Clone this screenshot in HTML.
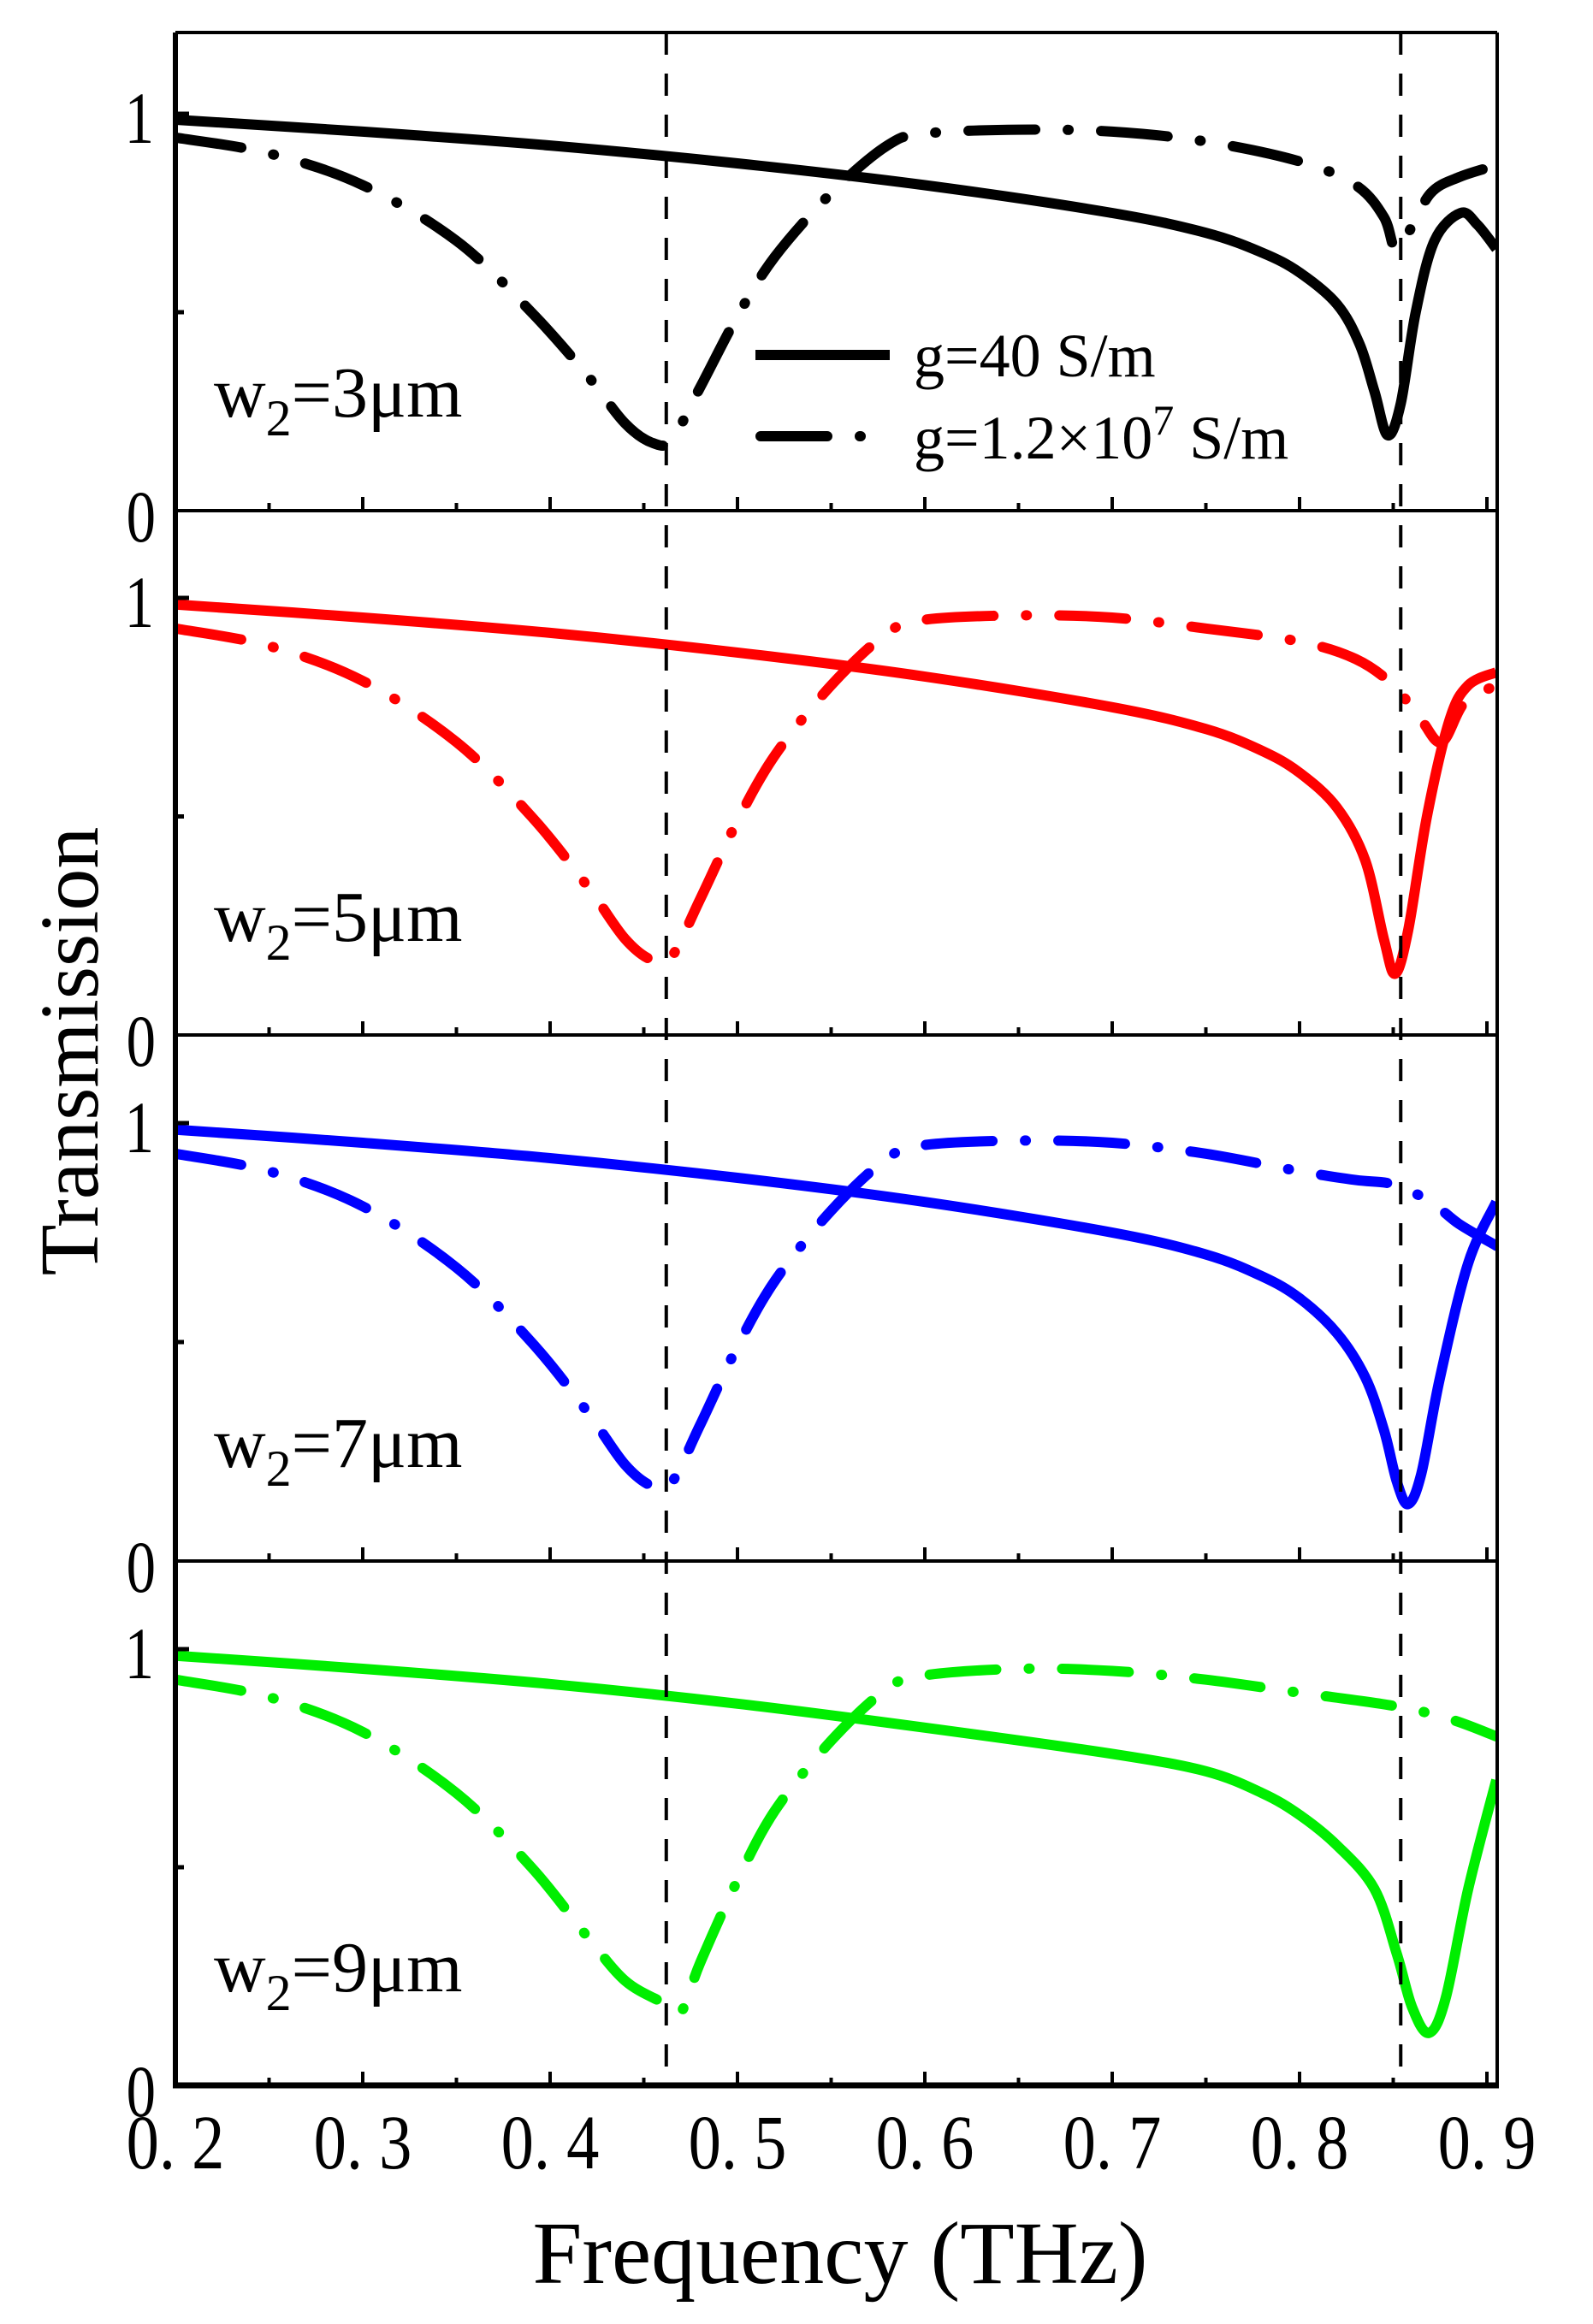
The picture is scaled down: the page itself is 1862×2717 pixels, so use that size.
<!DOCTYPE html>
<html><head><meta charset="utf-8">
<style>
html,body{margin:0;padding:0;background:#fff;}
svg{display:block;}
text{font-family:"Liberation Serif",serif;fill:#000;}
</style></head>
<body>
<svg id="chart" width="1862" height="2717" viewBox="0 0 1862 2717" xmlns="http://www.w3.org/2000/svg">
<g id="panels"></g>
<g id="guides"></g>
<g id="texts"></g>
</svg>
<script>
// ---- data ----
const xTicks = [0.2,0.3,0.4,0.5,0.6,0.7,0.8,0.9];
const xTickLabels = ["0. 2","0. 3","0. 4","0. 5","0. 6","0. 7","0. 8","0. 9"];
const guideFreqs = [0.462, 0.854];
const panelLabels = ["3","5","7","9"];
const panelColors = ["#000000","#ff0000","#0000ff","#00ee00"];

const blackSolidF = [0.2,0.3,0.4,0.5,0.6,0.7,0.75,0.78,0.8,0.82,0.832,0.84,0.847,0.854,0.862,0.872,0.886,0.895,0.905];
const blackSolidT = [0.985,0.955,0.92,0.875,0.82,0.75,0.7,0.65,0.6,0.52,0.42,0.3,0.19,0.27,0.5,0.68,0.75,0.72,0.66];
const blackDashF = [0.2,0.25,0.3,0.35,0.39,0.42,0.44,0.455,0.465,0.48,0.5,0.52,0.55,0.58,0.6,0.65,0.7,0.75,0.8,0.83,0.845,0.851,0.858,0.87,0.885,0.905];
const blackDashT = [0.94,0.9,0.82,0.68,0.5,0.34,0.22,0.17,0.18,0.31,0.49,0.64,0.8,0.92,0.95,0.96,0.955,0.93,0.88,0.82,0.74,0.66,0.7,0.8,0.84,0.87];

const redSolidF = [0.2,0.3,0.4,0.5,0.6,0.7,0.75,0.78,0.8,0.82,0.835,0.845,0.851,0.858,0.868,0.88,0.89,0.905];
const redSolidT = [0.985,0.955,0.92,0.875,0.82,0.75,0.7,0.65,0.6,0.52,0.4,0.22,0.14,0.24,0.5,0.72,0.8,0.83];
const redDashF = [0.2,0.25,0.3,0.35,0.39,0.42,0.44,0.455,0.465,0.48,0.5,0.52,0.55,0.58,0.6,0.65,0.7,0.75,0.8,0.83,0.85,0.865,0.876,0.888,0.905];
const redDashT = [0.93,0.89,0.81,0.67,0.5,0.34,0.22,0.17,0.18,0.31,0.49,0.64,0.8,0.92,0.95,0.96,0.955,0.93,0.9,0.86,0.8,0.72,0.67,0.76,0.8];

const blueSolidF = [0.2,0.3,0.4,0.5,0.6,0.7,0.75,0.78,0.8,0.82,0.835,0.845,0.852,0.858,0.865,0.875,0.89,0.905];
const blueSolidT = [0.985,0.955,0.92,0.875,0.82,0.75,0.7,0.65,0.6,0.52,0.42,0.3,0.18,0.13,0.2,0.42,0.68,0.82];
const blueDashF = [0.2,0.25,0.3,0.35,0.39,0.42,0.44,0.455,0.465,0.48,0.5,0.52,0.55,0.58,0.6,0.65,0.7,0.75,0.8,0.83,0.85,0.87,0.885,0.905];
const blueDashT = [0.93,0.89,0.81,0.67,0.5,0.34,0.22,0.17,0.18,0.31,0.49,0.64,0.8,0.92,0.95,0.96,0.955,0.93,0.89,0.87,0.86,0.82,0.77,0.72];

const greenSolidF = [0.2,0.3,0.4,0.5,0.6,0.7,0.75,0.78,0.8,0.82,0.84,0.852,0.86,0.869,0.878,0.89,0.905];
const greenSolidT = [0.985,0.955,0.92,0.875,0.82,0.76,0.72,0.67,0.62,0.55,0.45,0.3,0.18,0.12,0.2,0.45,0.7];
const greenDashF = [0.2,0.25,0.3,0.35,0.39,0.42,0.44,0.46,0.47,0.48,0.5,0.52,0.55,0.58,0.6,0.65,0.7,0.75,0.8,0.85,0.88,0.905];
const greenDashT = [0.93,0.89,0.81,0.67,0.5,0.34,0.24,0.19,0.17,0.28,0.47,0.63,0.79,0.91,0.94,0.955,0.95,0.93,0.9,0.87,0.84,0.8];

const solidF = [blackSolidF, redSolidF, blueSolidF, greenSolidF];
const solidT = [blackSolidT, redSolidT, blueSolidT, greenSolidT];
const dashF = [blackDashF, redDashF, blueDashF, greenDashF];
const dashT = [blackDashT, redDashT, blueDashT, greenDashT];

// ---- layout ----
const NS = "http://www.w3.org/2000/svg";
const L = 205, R = 1750, TOP = 38, BOT = 2438;
const panels = [
  {top:38, y0:597, y1:133},
  {top:597, y0:1210, y1:699},
  {top:1210, y0:1825, y1:1313},
  {top:1825, y0:2438, y1:1928}
];
function xs(f){ return L + (f - 0.2) * 2190; }
function ysf(p){ return t => p.y0 - t * (p.y0 - p.y1); }
function mk(tag, attrs, parent){
  const e = document.createElementNS(NS, tag);
  for (const k in attrs) e.setAttribute(k, attrs[k]);
  parent.appendChild(e); return e;
}
function smoothPath(pts){
  let d = `M${pts[0][0].toFixed(1)},${pts[0][1].toFixed(1)}`;
  for (let i = 0; i < pts.length - 1; i++){
    const p0 = pts[Math.max(0,i-1)], p1 = pts[i], p2 = pts[i+1], p3 = pts[Math.min(pts.length-1,i+2)];
    const c1 = [p1[0] + (p2[0]-p0[0])/6, p1[1] + (p2[1]-p0[1])/6];
    const c2 = [p2[0] - (p3[0]-p1[0])/6, p2[1] - (p3[1]-p1[1])/6];
    d += ` C${c1[0].toFixed(1)},${c1[1].toFixed(1)} ${c2[0].toFixed(1)},${c2[1].toFixed(1)} ${p2[0].toFixed(1)},${p2[1].toFixed(1)}`;
  }
  return d;
}
const svg = document.getElementById('chart');
const gP = document.getElementById('panels');
const gG = document.getElementById('guides');
const gT = document.getElementById('texts');
const defs = mk('defs', {}, svg);

panels.forEach((p, i) => {
  const y = ysf(p);
  const g = mk('g', {}, gP);
  
  
  const cp = mk('clipPath', {id:'clip'+i}, defs);
  mk('rect', {x:L, y:p.top, width:R-L, height:p.y0-p.top}, cp);
  const cg = mk('g', {'clip-path':'url(#clip'+i+')'}, g);
  const dd = mk('path', {d: smoothPath(dashF[i].map((f,k)=>[xs(f), y(dashT[i][k])])), fill:'none', stroke:panelColors[i], 'stroke-width':12, 'stroke-dasharray':'78 38 1 38', 'stroke-linecap':'round', 'stroke-linejoin':'round'}, cg);
  
  
  const sl = mk('path', {d: smoothPath(solidF[i].map((f,k)=>[xs(f), y(solidT[i][k])])), fill:'none', stroke:panelColors[i], 'stroke-width':12, 'stroke-linejoin':'round'}, cg);
  
  
  for (let k = 0; k <= 14; k++){
    const f = 0.2 + k*0.05;
    const len = (k % 2 === 0) ? 16 : 9;
    const t = mk('line', {x1:xs(f), x2:xs(f), y1:p.y0, y2:p.y0-len, stroke:'#000', 'stroke-width':4}, g);
    
    
  }
  [[1,16],[0.5,10]].forEach(([v,len]) => {
    const t = mk('line', {x1:L, x2:L+len, y1:y(v), y2:y(v), stroke:'#000', 'stroke-width':5}, g);
    
    
  });
  const l1 = mk('text', {x:180, y:y(1)+34, 'font-size':86, 'text-anchor':'end', transform:`translate(180 0) scale(0.8 1) translate(-180 0)`}, gT);
  l1.textContent = '1';
  
  
  const l0 = mk('text', {x:182, y:p.y0+36, 'font-size':86, 'text-anchor':'end', transform:`translate(182 0) scale(0.8 1) translate(-182 0)`}, gT);
  l0.textContent = '0';
  
  
  const pl = mk('text', {x:250, y:p.y0-110, 'font-size':84}, gT);
  pl.innerHTML = 'w<tspan font-size="60" dy="22">2</tspan><tspan dy="-22">=' + panelLabels[i] + 'μm</tspan>';
  
  
  if (i > 0){
    const s = mk('line', {x1:L, x2:R, y1:p.top, y2:p.top, stroke:'#000', 'stroke-width':4}, g);
    
    
  }
});

const fr = mk('g', {}, gG);


mk('line', {x1:L, x2:R, y1:TOP, y2:TOP, stroke:'#000', 'stroke-width':4}, fr);
mk('line', {x1:R, x2:R, y1:TOP, y2:BOT, stroke:'#000', 'stroke-width':4}, fr);
mk('line', {x1:L, x2:L, y1:TOP, y2:BOT+3, stroke:'#000', 'stroke-width':6}, fr);
mk('line', {x1:L-3, x2:R+2, y1:BOT, y2:BOT, stroke:'#000', 'stroke-width':7}, fr);

guideFreqs.forEach(f => {
  const gl = mk('line', {x1:xs(f), x2:xs(f), y1:TOP, y2:BOT, stroke:'#000', 'stroke-width':4, 'stroke-dasharray':'26 22'}, gG);
  
  
});

xTicks.forEach((f, k) => {
  const t = mk('text', {x:xs(f), y:2535, 'font-size':90, 'text-anchor':'middle', transform:`translate(${xs(f)} 0) scale(0.85 1) translate(${-xs(f)} 0)`}, gT);
  t.textContent = xTickLabels[k];
  
  
});

const xt = mk('text', {x:982, y:2669, 'font-size':104, 'text-anchor':'middle'}, gT);
xt.textContent = 'Frequency (THz)';


const yt = mk('text', {x:0, y:0, 'font-size':98, 'text-anchor':'middle', transform:'translate(114 1229) rotate(-90)'}, gT);
yt.textContent = 'Transmission';



const lg = mk('g', {}, gT);


const ls = mk('line', {x1:883, x2:1040, y1:415, y2:415, stroke:'#000', 'stroke-width':12}, lg);


const lt1 = mk('text', {x:1068, y:440, 'font-size':72}, lg);
lt1.textContent = 'g=40 S/m';


const ld = mk('path', {d:'M889,510 L1040,510', stroke:'#000', 'stroke-width':12, 'stroke-dasharray':'78 38 1 38', 'stroke-linecap':'round', fill:'none'}, lg);


const lt2 = mk('text', {x:1068, y:536, 'font-size':72}, lg);
lt2.innerHTML = 'g=1.2×10<tspan font-size="50" dy="-28">7</tspan><tspan dy="28"> S/m</tspan>';


</script>
</body></html>
